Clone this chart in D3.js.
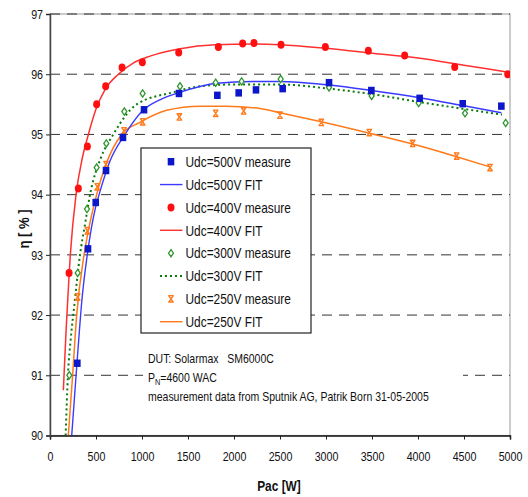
<!DOCTYPE html>
<html>
<head>
<meta charset="utf-8">
<script src="https://cdn.jsdelivr.net/npm/d3@7"></script>
<style>
  html, body { margin: 0; padding: 0; background: #fff; }
  svg { display: block; }
  text { font-family: "Liberation Sans", Arial, sans-serif; white-space: pre; }
</style>
</head>
<body>
<div id="chart"></div>
<script>
// ---------- data ----------
const xTicks = [0, 500, 1000, 1500, 2000, 2500, 3000, 3500, 4000, 4500, 5000];
const yTicks = [90, 91, 92, 93, 94, 95, 96, 97];

// Udc = 500 V
const m500P = [297, 413, 497, 609, 793, 1022, 1402, 1819, 2051, 2239, 2529, 3033, 3493, 4018, 4486, 4906];
const m500E = [91.2, 93.1, 93.87, 94.4, 94.95, 95.41, 95.68, 95.65, 95.69, 95.74, 95.76, 95.86, 95.73, 95.6, 95.51, 95.47];
const f500P = [236, 293, 350, 405, 497, 543, 650, 815, 1011, 1200, 1413, 1812, 2200, 2500, 3033, 3493, 4018, 4486, 4906];
const f500E = [90.0, 91.2, 92.3, 93.0, 93.8, 94.05, 94.55, 95.0, 95.4, 95.58, 95.7, 95.85, 95.88, 95.88, 95.82, 95.73, 95.61, 95.48, 95.36];

// Udc = 400 V
const m400P = [207, 308, 406, 507, 605, 783, 1004, 1399, 1830, 2094, 2217, 2511, 2993, 3460, 3855, 4399, 4975];
const m400E = [92.7, 94.1, 94.8, 95.5, 95.8, 96.11, 96.2, 96.36, 96.45, 96.51, 96.52, 96.49, 96.45, 96.39, 96.31, 96.12, 96.0];
const f400P = [145, 175, 207, 221, 283, 350, 417, 507, 600, 743, 900, 1087, 1400, 1800, 2200, 2500, 3000, 3500, 4000, 4500, 5000];
const f400E = [90.75, 91.75, 92.65, 93.0, 94.0, 94.6, 95.0, 95.45, 95.75, 96.0, 96.18, 96.3, 96.42, 96.49, 96.5, 96.49, 96.43, 96.35, 96.27, 96.15, 96.03];

// Udc = 300 V
const m300P = [210, 301, 402, 507, 612, 808, 1007, 1413, 1801, 2083, 2507, 3033, 3496, 4007, 4511, 4953];
const m300E = [91.0, 92.7, 93.76, 94.45, 94.85, 95.38, 95.68, 95.8, 95.86, 95.88, 95.92, 95.78, 95.64, 95.52, 95.35, 95.19];
const f300P = [170, 195, 225, 260, 326, 380, 435, 550, 688, 942, 1340, 1630, 2000, 2500, 3033, 3496, 4007, 4511, 4913];
const f300E = [90.0, 91.0, 91.6, 92.1, 93.0, 93.5, 94.0, 94.6, 95.0, 95.5, 95.7, 95.8, 95.83, 95.83, 95.76, 95.67, 95.54, 95.42, 95.33];

// Udc = 250 V
const m250P = [301, 406, 514, 609, 804, 1007, 1406, 1801, 2105, 2500, 2949, 3471, 3942, 4420, 4783];
const m250E = [92.3, 93.4, 94.13, 94.5, 95.06, 95.21, 95.29, 95.35, 95.39, 95.32, 95.2, 95.03, 94.85, 94.64, 94.45];
const f250P = [199, 246, 290, 370, 430, 507, 620, 779, 978, 1268, 1630, 1900, 2283, 2500, 2949, 3471, 3942, 4420, 4783];
const f250E = [90.0, 91.0, 92.0, 93.0, 93.5, 94.0, 94.55, 95.0, 95.2, 95.4, 95.47, 95.47, 95.43, 95.36, 95.21, 95.02, 94.84, 94.63, 94.46];

const legendLabels = ["Udc=500V measure", "Udc=500V FIT", "Udc=400V measure", "Udc=400V FIT",
                      "Udc=300V measure", "Udc=300V FIT", "Udc=250V measure", "Udc=250V FIT"];
const noteLines = ["DUT: Solarmax   SM6000C", "=4600 WAC", "measurement data from Sputnik AG, Patrik Born 31-05-2005"];

// ---------- styles ----------
const C = {
  b: { mark: "#0b17c9", line: "#3a3aff" },
  r: { mark: "#ff1010", line: "#ff3030" },
  g: { mark: "#2f962f", line: "#0a7a0a" },
  o: { mark: "#ff7a1a", line: "#ff7a1a" }
};
const NARROW = 0.82;
function narrow(sel, f) {
  sel.each(function () {
    const n = this.getComputedTextLength();
    d3.select(this).attr("textLength", n * (f || NARROW)).attr("lengthAdjust", "spacingAndGlyphs");
  });
}

const W = 528, H = 497;
const svg = d3.select("#chart").append("svg").attr("width", W).attr("height", H);

const x = d3.scaleLinear().domain([0, 5000]).range([50, 510]);
const y = d3.scaleLinear().domain([90, 97]).range([435.5, 14]);

svg.append("clipPath").attr("id", "clip").append("rect")
  .attr("x", 50).attr("y", 14).attr("width", 460).attr("height", 421.5);

// frame (top/right gray)
svg.append("rect").attr("x", 50).attr("y", 14).attr("width", 460).attr("height", 421.5)
  .attr("fill", "none").attr("stroke", "#a8a8a8").attr("stroke-width", 1.2);

// dashed gridlines
svg.append("g").selectAll("line").data(yTicks.filter(d => d > 90)).join("line")
  .attr("x1", 50).attr("x2", 510)
  .attr("y1", d => y(d)).attr("y2", d => y(d))
  .attr("stroke", "#333").attr("stroke-width", 1)
  .attr("stroke-dasharray", "10,7");

// axes
const xAxis = d3.axisBottom(x).tickValues(xTicks).tickSize(4).tickFormat(d3.format("d"));
const gx = svg.append("g").attr("transform", `translate(0,${y(90)})`).call(xAxis);
gx.select(".domain").attr("stroke", "#111").attr("stroke-width", 1.5);
gx.selectAll(".tick line").attr("stroke", "#222");
gx.selectAll(".tick text").attr("font-size", 13).attr("fill", "#111").attr("dy", "1.45em")
  .attr("font-family", "Liberation Sans, Arial, sans-serif");
narrow(gx.selectAll(".tick text"));

const yAxis = d3.axisLeft(y).tickValues(yTicks).tickSize(4).tickFormat(d3.format("d"));
const gy = svg.append("g").attr("transform", `translate(50,0)`).call(yAxis);
gy.select(".domain").attr("stroke", "#444").attr("stroke-width", 1.5);
gy.selectAll(".tick line").attr("stroke", "#222");
gy.selectAll(".tick text").attr("font-size", 13).attr("fill", "#111").attr("x", -7)
  .attr("font-family", "Liberation Sans, Arial, sans-serif");
narrow(gy.selectAll(".tick text"));

// axis titles
const xt = svg.append("text").attr("x", 279).attr("y", 491).attr("text-anchor", "middle")
  .attr("font-size", 14.5).attr("font-weight", "bold").attr("fill", "#111").text("Pac [W]");
narrow(xt);
const yt = svg.append("text").attr("transform", "translate(29,229) rotate(-90)").attr("text-anchor", "middle")
  .attr("font-size", 14.5).attr("font-weight", "bold").attr("fill", "#111").text("η [ % ]");
narrow(yt, 0.9);

// ---------- series ----------
const plot = svg.append("g").attr("clip-path", "url(#clip)");
const lineGen = d3.line().x(d => x(d[0])).y(d => y(d[1])).curve(d3.curveMonotoneX);
const zip = (a, b) => a.map((v, i) => [v, b[i]]);

function fit(P, E, color, dash, width) {
  plot.append("path").datum(zip(P, E)).attr("d", lineGen)
    .attr("fill", "none").attr("stroke", color).attr("stroke-width", width || 1.4)
    .attr("stroke-dasharray", dash || null);
}

const markers = {
  square: (g, c) => g.append("rect").attr("x", -3.3).attr("y", -3.7).attr("width", 6.6).attr("height", 7.4).attr("fill", c),
  circle: (g, c) => g.append("ellipse").attr("rx", 3.5).attr("ry", 4).attr("fill", c),
  diamond: (g, c) => g.append("path").attr("d", "M0,-3.6L2.5,0L0,3.6L-2.5,0Z").attr("fill", "#fff").attr("stroke", c).attr("stroke-width", 1.3),
  star: (g, c) => g.append("path").attr("d", "M-2.8,-3.2L2.8,-3.2M-2.8,3.2L2.8,3.2M-2.3,-3.2L2.3,3.2M2.3,-3.2L-2.3,3.2M0,-1.5L0,1.5")
    .attr("fill", "none").attr("stroke", c).attr("stroke-width", 1.4)
};

function meas(P, E, kind, color) {
  plot.append("g").selectAll("g").data(zip(P, E)).join("g")
    .attr("transform", d => `translate(${x(d[0])},${y(d[1])})`)
    .each(function () { markers[kind](d3.select(this), color); });
}

fit(f250P, f250E, C.o.line, null, 1.5);
fit(f300P, f300E, C.g.line, "2,3", 2);
fit(f500P, f500E, C.b.line, null, 1.4);
fit(f400P, f400E, C.r.line, null, 1.5);
meas(m250P, m250E, "star", C.o.mark);
meas(m300P, m300E, "diamond", C.g.mark);
meas(m500P, m500E, "square", C.b.mark);
meas(m400P, m400E, "circle", C.r.mark);

// ---------- legend ----------
const lg = svg.append("g");
lg.append("rect").attr("x", 141).attr("y", 148).attr("width", 170).attr("height", 185)
  .attr("fill", "#fff").attr("stroke", "#222").attr("stroke-width", 1.2);
const legendItems = [
  { t: "mark", k: "square", c: C.b.mark }, { t: "line", c: C.b.line },
  { t: "mark", k: "circle", c: C.r.mark }, { t: "line", c: C.r.line },
  { t: "mark", k: "diamond", c: C.g.mark }, { t: "line", c: C.g.line, dash: "2,3", w: 2 },
  { t: "mark", k: "star", c: C.o.mark }, { t: "line", c: C.o.line }
];
legendItems.forEach((it, i) => {
  const yy = 161.7 + i * 22.86;
  if (it.t === "mark") {
    const g = lg.append("g").attr("transform", `translate(171,${yy})`);
    markers[it.k](g, it.c);
  } else {
    lg.append("line").attr("x1", 160).attr("x2", 182.5).attr("y1", yy).attr("y2", yy)
      .attr("stroke", it.c).attr("stroke-width", it.w || 1.4).attr("stroke-dasharray", it.dash || null);
  }
  const t = lg.append("text").attr("x", 185.5).attr("y", yy).attr("dy", "0.36em")
    .attr("font-size", 14.5).attr("fill", "#111").text(legendLabels[i]);
  narrow(t);
});

// ---------- note ----------
const ng = svg.append("g");
ng.append("rect").attr("x", 143).attr("y", 342).attr("width", 320).attr("height", 66).attr("fill", "#fff");
const nt = ng.append("g");
nt.append("text").attr("x", 148).attr("y", 358).attr("dy", "0.36em").attr("font-size", 12.8).attr("fill", "#111").text(noteLines[0]);
const t2 = nt.append("text").attr("x", 148).attr("y", 377).attr("dy", "0.36em").attr("font-size", 12.8).attr("fill", "#111");
t2.append("tspan").text("P");
t2.append("tspan").attr("font-size", 9).attr("dy", "3").text("N");
t2.append("tspan").attr("dy", "-3").text(noteLines[1]);
nt.append("text").attr("x", 148).attr("y", 396).attr("dy", "0.36em").attr("font-size", 12.8).attr("fill", "#111").text(noteLines[2]);
nt.attr("transform", `translate(148,0) scale(${NARROW},1) translate(-148,0)`);
</script>
</body>
</html>
